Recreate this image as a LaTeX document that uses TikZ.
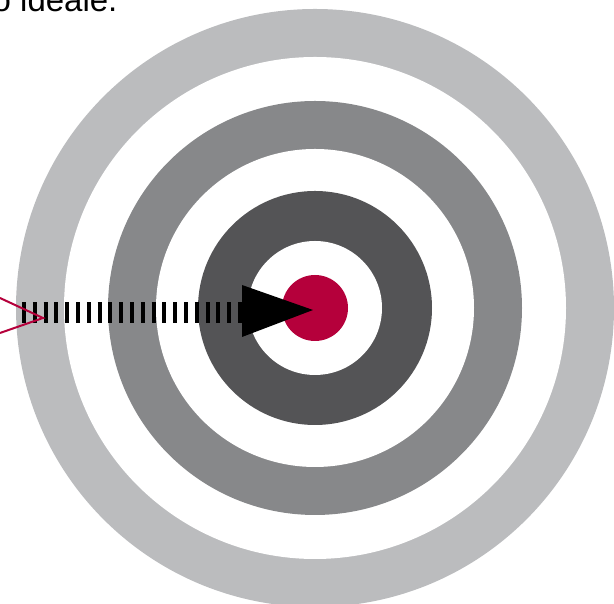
\documentclass[tikz,border=0pt]{standalone}
\usepackage{fontspec}
\setmainfont{Liberation Sans}

\definecolor{ringLight}{RGB}{187,188,190}
\definecolor{ringMid}{RGB}{135,136,138}
\definecolor{ringDark}{RGB}{84,84,86}
\definecolor{bullRed}{RGB}{181,0,59}

\def\Cx{315}
\def\Cy{296}

\begin{document}
\begin{tikzpicture}[x=1pt,y=1pt]
  \useasboundingbox (0,0) rectangle (614,604);
  % --- Anelli del bersaglio ---
  \foreach \r/\c in {%
    299/ringLight,
    251/white,
    207/ringMid,
    159/white,
    117/ringDark,
    67/white,
    33/bullRed%
  }{
   \fill[\c] (\Cx,\Cy) circle (\r);
  }
  % --- Testo ---
  \node[anchor=base west, inner sep=0pt, font=\fontsize{33}{40}\selectfont] (caption) at (-7.5,592) {o ideale.};
  % --- Freccia ---
  \coordinate (tail) at (22,291.5);
  \coordinate (shaft) at (242,291.5);
  \coordinate (tipTop) at (242,319);
  \coordinate (tipBot) at (242,267);
  \coordinate (tip) at (313,294);
  \draw[line width=21pt, dash pattern=on 4pt off 6.8pt] (tail) -- (shaft);
  \fill[black] (tipTop) -- (tip) -- (tipBot) -- cycle;
  \coordinate (fletchA) at (0,306);
  \coordinate (fletchTip) at (43,286);
  \coordinate (fletchB) at (0,271);
  \draw[bullRed, line width=2pt] (fletchA) -- (fletchTip) -- (fletchB);
\end{tikzpicture}
\end{document}
